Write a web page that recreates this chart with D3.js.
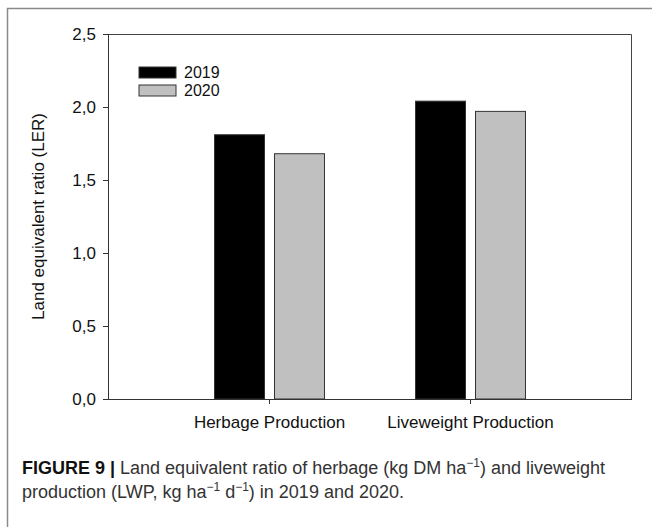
<!DOCTYPE html>
<html>
<head>
<meta charset="utf-8">
<script src="https://cdn.jsdelivr.net/npm/d3@7"></script>
<style>
  body { margin: 0; background: #fff; }
  svg { display: block; }
</style>
</head>
<body>
<svg id="chart"></svg>
<script>
// data
const categories = ['Herbage Production', 'Liveweight Production'];
const years = ['2019', '2020'];
const ler2019 = [1.81, 2.04];
const ler2020 = [1.68, 1.97];
const yTicks = [0, 0.5, 1.0, 1.5, 2.0, 2.5];
const yearColors = ['#000000', '#c0c0c0'];

const width = 652, height = 527;
const margin = {top: 34, right: 20, bottom: 128, left: 108};
const font = "'Liberation Sans', Arial, sans-serif";

const table = categories.map((c, i) => ({cat: c, values: [ler2019[i], ler2020[i]]}));

const svg = d3.select('#chart').attr('width', width).attr('height', height);

// outer figure frame (left + top only visible)
svg.append('path')
  .attr('d', `M7.5,${height} V8.5 H${width}`)
  .attr('fill', 'none')
  .attr('stroke', '#8a8a8a')
  .attr('stroke-width', 1.5);

const x0 = d3.scaleBand()
  .domain(categories)
  .range([margin.left, width - margin.right])
  .paddingInner(0.453)
  .paddingOuter(0.53);

const x1 = d3.scaleBand()
  .domain(years)
  .range([0, x0.bandwidth()])
  .paddingInner(0.167);

const y = d3.scaleLinear()
  .domain([0, 2.5])
  .range([height - margin.bottom, margin.top]);

const color = d3.scaleOrdinal().domain(years).range(yearColors);

// plot box: top + right
svg.append('path')
  .attr('d', `M${margin.left},${margin.top + 0.5} H${width - margin.right - 0.5} V${y(0)}`)
  .attr('fill', 'none')
  .attr('stroke', '#444')
  .attr('stroke-width', 1);

// bars
const groups = svg.append('g')
  .selectAll('g')
  .data(table)
  .enter()
  .append('g')
  .attr('transform', d => `translate(${x0(d.cat)},0)`);

groups.selectAll('rect')
  .data(d => d.values.map((v, i) => ({year: years[i], value: v})))
  .enter()
  .append('rect')
  .attr('x', d => x1(d.year))
  .attr('y', d => y(d.value))
  .attr('width', x1.bandwidth())
  .attr('height', d => y(0) - y(d.value))
  .attr('fill', d => color(d.year))
  .attr('stroke', '#333')
  .attr('stroke-width', 1);

// y axis
const fmt = v => d3.format('.1f')(v).replace('.', ',');
const yAxis = svg.append('g')
  .attr('transform', `translate(${margin.left},0)`)
  .call(d3.axisLeft(y).tickValues(yTicks).tickFormat(fmt).tickSize(5).tickPadding(7));

// x axis
const xAxis = svg.append('g')
  .attr('transform', `translate(0,${y(0)})`)
  .call(d3.axisBottom(x0).tickSize(5).tickPadding(12).tickSizeOuter(0));

[yAxis, xAxis].forEach(a => {
  a.select('.domain').attr('stroke', '#333');
  a.selectAll('.tick line').attr('stroke', '#333');
  a.selectAll('text')
    .attr('font-family', font)
    .attr('font-size', 17)
    .attr('fill', '#111');
});
xAxis.select('.domain').attr('d', `M${margin.left},0.5H${width - margin.right}`);

// y axis title
svg.append('text')
  .attr('transform', `translate(44,${(y(0) + y(2.5)) / 2}) rotate(-90)`)
  .attr('text-anchor', 'middle')
  .attr('font-family', font)
  .attr('font-size', 17)
  .attr('fill', '#111')
  .text('Land equivalent ratio (LER)');

// legend
const legend = svg.append('g')
  .selectAll('g')
  .data(years)
  .enter()
  .append('g')
  .attr('transform', (d, i) => `translate(139,${67 + i * 18})`);
legend.append('rect')
  .attr('width', 37)
  .attr('height', 11)
  .attr('fill', d => color(d))
  .attr('stroke', '#333')
  .attr('stroke-width', 1);
legend.append('text')
  .attr('x', 45)
  .attr('y', 11)
  .attr('font-family', font)
  .attr('font-size', 16)
  .attr('fill', '#111')
  .text(d => d);

// caption
const cap = svg.append('g')
  .attr('font-family', font)
  .attr('font-size', 18)
  .attr('fill', '#333');

const line1 = cap.append('text').attr('x', 22).attr('y', 474);
line1.append('tspan').attr('font-weight', 'bold').attr('fill', '#111').text('FIGURE 9 | ');
line1.append('tspan').text('Land equivalent ratio of herbage (kg DM ha');
line1.append('tspan').attr('baseline-shift', 'super').attr('font-size', 12).text('−1');
line1.append('tspan').text(') and liveweight');

const line2 = cap.append('text').attr('x', 22).attr('y', 498);
line2.append('tspan').text('production (LWP, kg ha');
line2.append('tspan').attr('baseline-shift', 'super').attr('font-size', 12).text('−1');
line2.append('tspan').text(' d');
line2.append('tspan').attr('baseline-shift', 'super').attr('font-size', 12).text('−1');
line2.append('tspan').text(') in 2019 and 2020.');
</script>
</body>
</html>
